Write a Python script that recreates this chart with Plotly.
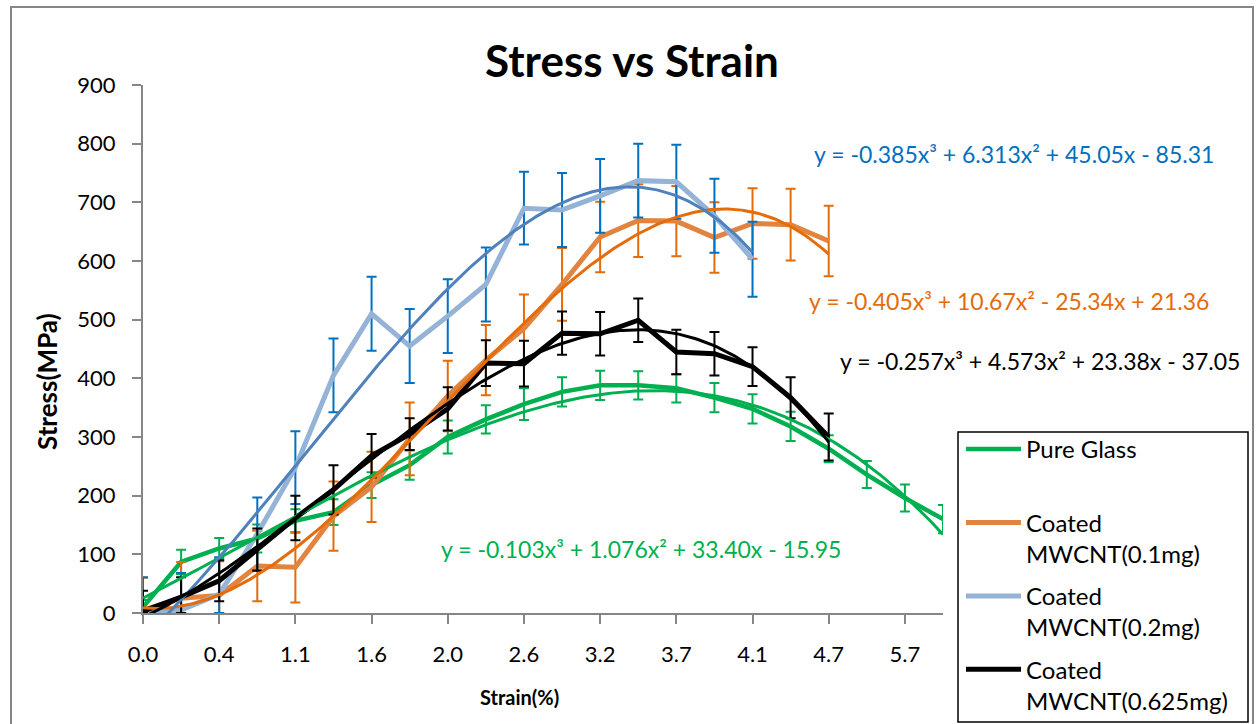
import numpy as np
import plotly.graph_objects as go

# ---------------- data ----------------
strain_tick_labels = ["0.0", "0.4", "1.1", "1.6", "2.0", "2.6", "3.2", "3.7", "4.1", "4.7", "5.7"]
n_categories = 22

pure_glass = [10, 87, 110, 127, 157, 172, 218, 252, 300, 330, 356, 377, 388, 388, 383, 367, 348, 318, 280, 236, 196, 160]
pure_glass_err = [12, 21, 18, 24, 20, 22, 22, 25, 28, 24, 27, 25, 25, 24, 24, 25, 25, 25, 23, 23, 23, 24]

mwcnt_01 = [5, 25, 30, 80, 78, 165, 215, 297, 370, 431, 485, 560, 641, 669, 668, 640, 664, 662, 634]
mwcnt_01_err = [55, 62, 58, 60, 60, 59, 60, 62, 60, 60, 58, 62, 60, 62, 60, 60, 60, 61, 60]

mwcnt_02 = [0, 5, 32, 135, 248, 405, 510, 455, 506, 560, 690, 687, 711, 737, 735, 677, 603]
mwcnt_02_err = [61, 63, 63, 62, 62, 63, 63, 63, 63, 63, 62, 63, 63, 63, 63, 63, 64]

mwcnt_0625 = [3, 27, 55, 108, 162, 210, 268, 305, 348, 426, 425, 477, 476, 499, 445, 442, 420, 367, 300]
mwcnt_0625_err = [35, 34, 35, 36, 38, 42, 37, 27, 37, 39, 39, 37, 37, 37, 38, 37, 33, 35, 40]

series_names = ["Pure Glass", "Coated<br>MWCNT(0.1mg)", "Coated<br>MWCNT(0.2mg)", "Coated<br>MWCNT(0.625mg)"]
equations = [
    "y = -0.103x³ + 1.076x² + 33.40x - 15.95",
    "y = -0.405x³ + 10.67x² - 25.34x + 21.36",
    "y = -0.385x³ + 6.313x² + 45.05x - 85.31",
    "y = -0.257x³ + 4.573x² + 23.38x - 37.05",
]

# ---------------- styling ----------------
W, H = 1257, 724
L, R, T, B = 143, 943, 85, 613
FONT = "Lato"


def xp(px):
    return (px - L) / (R - L)


def yp(py):
    return (B - py) / (B - T)


series = [
    dict(v=pure_glass, e=pure_glass_err, name=series_names[0] + "<br> ", line="#00B050", lw=4.5,
         trend="#00B050", tw=3, err="#00B050", eq=equations[0], eqpos=(641, 549), eqcol="#00B050"),
    dict(v=mwcnt_01, e=mwcnt_01_err, name=series_names[1], line="#E2843F", lw=5,
         trend="#E46C0A", tw=3, err="#E46C0A", eq=equations[1], eqpos=(1009, 301), eqcol="#E46C0A"),
    dict(v=mwcnt_02, e=mwcnt_02_err, name=series_names[2], line="#95B3D7", lw=5,
         trend="#4F81BD", tw=3, err="#0070C0", eq=equations[2], eqpos=(1014, 154), eqcol="#0070C0"),
    dict(v=mwcnt_0625, e=mwcnt_0625_err, name=series_names[3], line="#000000", lw=5,
         trend="#000000", tw=3, err="#000000", eq=equations[3], eqpos=(1040, 361), eqcol="#000000"),
]

fig = go.Figure()

# data lines with error bars
for k, s in enumerate(series):
    v = np.array(s["v"], dtype=float)
    e = np.array(s["e"], dtype=float)
    x = np.arange(len(v))
    fig.add_trace(go.Scatter(
        x=x, y=v, mode="lines", name=s["name"], legendgroup=f"g{k}",
        line=dict(color=s["line"], width=s["lw"]),
        cliponaxis=False,
        error_y=dict(type="data", symmetric=False, array=e, arrayminus=np.minimum(e, v),
                     color=s["err"], thickness=2, width=5),
        hoverinfo="skip",
    ))

# polynomial (order 3) trendlines fitted to each series
for k, s in enumerate(series):
    v = np.array(s["v"], dtype=float)
    xi = np.arange(1, len(v) + 1)
    coef = np.polyfit(xi, v, 3)
    xs = np.linspace(1, len(v), 300)
    fig.add_trace(go.Scatter(
        x=xs - 1, y=np.polyval(coef, xs), mode="lines", showlegend=False, legendgroup=f"t{k}",
        line=dict(color=s["trend"], width=s["tw"]), hoverinfo="skip",
    ))

annotations = []
for s in series:
    annotations.append(dict(
        text=s["eq"], x=xp(s["eqpos"][0]), y=yp(s["eqpos"][1]), xref="paper", yref="paper",
        xanchor="center", yanchor="middle", showarrow=False,
        font=dict(family=FONT, size=23, color=s["eqcol"]),
    ))
annotations.append(dict(text="<b>Strain(%)</b>", x=xp(519), y=yp(697), xref="paper", yref="paper",
                        xanchor="center", yanchor="middle", showarrow=False,
                        font=dict(family=FONT, size=20, color="#000000")))
annotations.append(dict(text="<b>Stress(MPa)</b>", x=xp(47), y=yp(382), xref="paper", yref="paper",
                        xanchor="center", yanchor="middle", showarrow=False, textangle=-90,
                        font=dict(family=FONT, size=26, color="#000000")))

shapes = [
    dict(type="rect", xref="paper", yref="paper", x0=xp(11), x1=xp(1253), y0=yp(740), y1=yp(7),
         line=dict(color="#868686", width=2), fillcolor="rgba(0,0,0,0)", layer="below"),
    dict(type="rect", xref="paper", yref="paper", x0=xp(958), x1=xp(1248), y0=yp(722), y1=yp(432),
         line=dict(color="#000000", width=1.5), fillcolor="rgba(0,0,0,0)"),
]

fig.update_layout(
    width=W, height=H,
    margin=dict(l=L, r=W - R, t=T, b=H - B, pad=0, autoexpand=False),
    paper_bgcolor="white", plot_bgcolor="white",
    title=dict(text="<b>Stress vs Strain</b>", x=632 / W, xanchor="center", y=1 - 62 / H, yanchor="middle",
               xref="container", yref="container", font=dict(family=FONT, size=44, color="#000000")),
    font=dict(family=FONT, color="#000000"),
    showlegend=True,
    hovermode=False,
    legend=dict(x=xp(961), y=yp(427), xanchor="left", yanchor="top", xref="paper", yref="paper",
                bgcolor="rgba(255,255,255,0)", borderwidth=0, font=dict(family=FONT, size=24, color="#000000"),
                tracegroupgap=8, valign="top", itemwidth=55, traceorder="grouped"),
    annotations=annotations,
    shapes=shapes,
)

fig.update_xaxes(
    range=[0, n_categories - 1], tickmode="array",
    tickvals=list(range(0, n_categories - 1, 2)), ticktext=strain_tick_labels,
    showline=True, linecolor="#868686", linewidth=2, ticks="outside", ticklen=9, tickwidth=1.5,
    tickcolor="#868686", showgrid=False, zeroline=False, ticklabelstandoff=12,
    tickfont=dict(family=FONT, size=22, color="#000000"),
)
fig.update_yaxes(
    range=[0, 900], tickmode="array", tickvals=list(range(0, 901, 100)),
    showline=True, linecolor="#868686", linewidth=2, ticks="outside", ticklen=9, tickwidth=1.5,
    tickcolor="#868686", showgrid=False, zeroline=False, ticklabelstandoff=12,
    tickfont=dict(family=FONT, size=22, color="#000000"),
)

fig.write_html("out.html", config={"displayModeBar": False},
               post_script="document.body.style.margin='0px';")
